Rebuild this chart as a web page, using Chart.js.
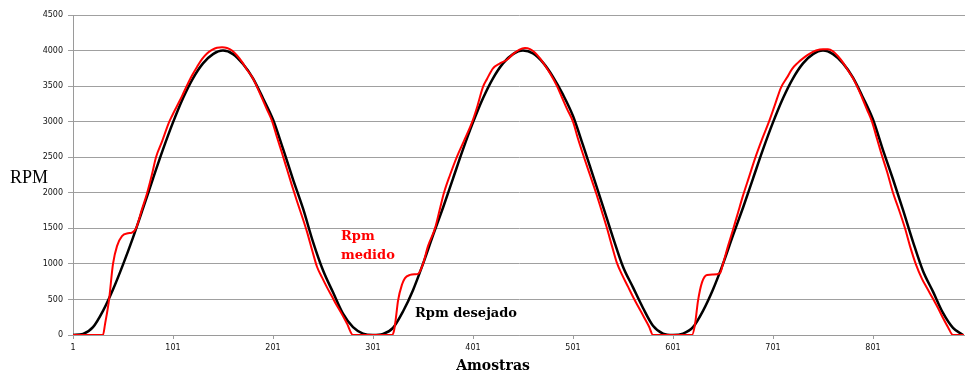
<!DOCTYPE html>
<html>
<head>
<meta charset="utf-8">
<script src="https://cdn.jsdelivr.net/npm/chart.js@4"></script>
<style>
  html, body { margin: 0; padding: 0; background: #fff; }
  #wrap { width: 965px; height: 372px; }
</style>
</head>
<body>
<div id="wrap"><canvas id="rpmChart" width="965" height="372"></canvas></div>
<script>
// amostra (sample index) and rpm
const desejadoX = [1, 11, 21, 31, 41, 51, 61, 71, 81, 91, 101, 111, 121, 131, 141, 151, 161, 171, 181, 191, 201, 211, 221, 231, 241, 251, 261, 271, 281, 291,
  301, 311, 321, 331, 341, 351, 361, 371, 381, 391, 401, 411, 421, 431, 441, 451, 461, 471, 481, 491, 501, 511, 521, 531, 541, 551, 561, 571, 581, 591,
  601, 611, 621, 631, 641, 651, 661, 671, 681, 691, 701, 711, 721, 731, 741, 751, 761, 771, 781, 791, 801, 811, 821, 831, 841, 851, 861, 871, 881, 891];
const desejadoY = [0, 15, 110, 340, 640, 990, 1370, 1780, 2200, 2610, 2990, 3330, 3610, 3820, 3950, 4000, 3950, 3810, 3610, 3330, 3030, 2620, 2190, 1780, 1310, 910, 600, 300, 110, 20,
  0, 15, 100, 330, 630, 1000, 1400, 1790, 2200, 2610, 2990, 3330, 3610, 3820, 3950, 4000, 3960, 3830, 3630, 3380, 3080, 2670, 2240, 1810, 1370, 960, 670, 380, 130, 20,
  0, 20, 110, 340, 640, 1000, 1400, 1790, 2200, 2610, 2990, 3330, 3610, 3820, 3950, 4000, 3950, 3820, 3620, 3340, 3030, 2600, 2190, 1760, 1310, 900, 610, 310, 100, 0];

const medidoX = [1, 31, 33, 37, 41, 45, 50, 56, 60, 64, 70, 75, 80, 84, 90, 97, 100, 105, 110, 115, 120, 125, 130, 135, 140, 145, 150, 155,
  160, 165, 170, 175, 180, 185, 190, 195, 200, 205, 210, 215, 220, 225, 230, 235, 240, 245, 250, 255, 260, 265, 270, 275, 281,
  320, 322, 324, 326, 330, 333, 338, 343, 346, 351, 356, 363, 368, 372, 378, 385, 392, 400, 405, 411, 415, 421, 428, 435, 441, 447, 453,
  458, 463, 468, 473, 478, 485, 490, 495, 501, 506, 512, 518, 524, 530, 535, 540, 545, 550, 556, 562, 567, 572, 577, 581,
  620, 623, 626, 630, 635, 641, 648, 651, 656, 661, 666, 671, 677, 683, 690, 697, 703, 709, 715, 720, 726, 731, 737, 744, 751,
  756, 761, 766, 771, 776, 781, 785, 790, 795, 800, 805, 810, 815, 821, 826, 833, 838, 844, 850, 855, 861, 866, 871, 876, 881, 892];
const medidoY = [0, 0, 150, 490, 1000, 1250, 1390, 1430, 1440, 1500, 1770, 1990, 2260, 2500, 2720, 2990, 3080, 3220, 3360, 3510, 3650, 3770, 3880, 3960, 4010, 4040, 4045, 4035,
  4000, 3930, 3840, 3730, 3630, 3490, 3330, 3170, 3010, 2780, 2560, 2330, 2100, 1880, 1670, 1450, 1200, 960, 810, 670, 540, 410, 290, 160, 0,
  0, 60, 250, 480, 710, 800, 845, 855, 860, 1000, 1250, 1500, 1780, 2000, 2250, 2510, 2730, 2990, 3200, 3490, 3600, 3750, 3820, 3870, 3950, 4010, 4035,
  4020, 3970, 3890, 3790, 3680, 3500, 3340, 3180, 3000, 2760, 2500, 2250, 2000, 1730, 1500, 1250, 1010, 850, 680, 510, 380, 250, 120, 0,
  0, 150, 480, 740, 845, 850, 870, 1000, 1250, 1480, 1720, 1960, 2220, 2480, 2750, 3000, 3240, 3480, 3620, 3740, 3830, 3890, 3950, 4000, 4020,
  4020, 3990, 3920, 3830, 3720, 3610, 3500, 3340, 3170, 3000, 2760, 2520, 2300, 2000, 1800, 1500, 1250, 990, 790, 660, 510, 380, 240, 110, 0, 0];

const xTicks = [1, 101, 201, 301, 401, 501, 601, 701, 801];
const yTicks = [0, 500, 1000, 1500, 2000, 2500, 3000, 3500, 4000, 4500];

const toPoints = (xs, ys) => xs.map((x, i) => ({ x: x, y: ys[i] }));

// free text in the plot, drawn on the canvas
const labelsPlugin = {
    id: "labels",
    afterDraw(chart) {
        const ctx = chart.ctx;
        ctx.save();
        ctx.textBaseline = "alphabetic";
        ctx.textAlign = "left";
        ctx.fillStyle = "#000";
        ctx.font = "18px 'Liberation Serif'";
        ctx.fillText("RPM", 10, 183);
        ctx.font = "bold 13px 'DejaVu Serif'";
        ctx.fillText("Rpm desejado", 415, 317);
        ctx.fillStyle = "#ff0000";
        ctx.fillText("Rpm", 341, 240);
        ctx.fillText("medido", 341, 259);
        ctx.fillStyle = "#000";
        ctx.font = "bold 14px 'DejaVu Serif'";
        ctx.textAlign = "center";
        ctx.fillText("Amostras", 493, 370);
        ctx.restore();
    }
};

const ctx = document.getElementById("rpmChart").getContext("2d");
new Chart(ctx, {
    type: "line",
    data: {
        datasets: [{
            label: "Rpm desejado",
            data: toPoints(desejadoX, desejadoY),
            borderColor: "#000000",
            borderWidth: 2.5,
            pointRadius: 0,
            cubicInterpolationMode: "monotone",
            order: 2
        }, {
            label: "Rpm medido",
            data: toPoints(medidoX, medidoY),
            borderColor: "#ff0000",
            borderWidth: 2,
            pointRadius: 0,
            cubicInterpolationMode: "monotone",
            order: 1
        }]
    },
    options: {
        responsive: false,
        animation: false,
        layout: { padding: { top: 15, right: 0, left: 0, bottom: 0 } },
        plugins: {
            legend: { display: false },
            tooltip: { enabled: false }
        },
        scales: {
            x: {
                type: "linear",
                min: 1,
                max: 893,
                afterBuildTicks: (scale) => { scale.ticks = xTicks.map(v => ({ value: v })); },
                afterFit: (scale) => { scale.height = 37; },
                grid: { drawOnChartArea: false, color: "#9a9a9a", tickLength: 4 },
                border: { color: "#9a9a9a" },
                ticks: {
                    autoSkip: false,
                    maxRotation: 0,
                    padding: 4,
                    color: "#111",
                    font: { family: "'DejaVu Sans'", size: 8 },
                    callback: (v) => String(v)
                }
            },
            y: {
                min: 0,
                max: 4500,
                afterBuildTicks: (scale) => { scale.ticks = yTicks.map(v => ({ value: v })); },
                afterFit: (scale) => { scale.width = 73; },
                grid: { color: "#a0a0a0", tickLength: 5 },
                border: { color: "#9a9a9a" },
                ticks: {
                    padding: 5,
                    color: "#111",
                    font: { family: "'DejaVu Sans'", size: 8 },
                    callback: (v) => String(v)
                }
            }
        }
    },
    plugins: [labelsPlugin]
});
</script>
</body>
</html>
